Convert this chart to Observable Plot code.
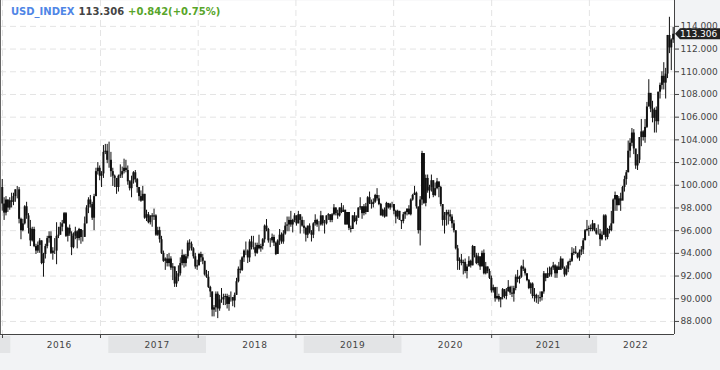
<!DOCTYPE html>
<html><head><meta charset="utf-8">
<script src="https://cdn.jsdelivr.net/npm/d3@7"></script>
<script src="https://cdn.jsdelivr.net/npm/@observablehq/plot@0.6"></script>
<style>
html,body{margin:0;padding:0;background:#f2f3f5;}
#chart{width:720px;height:370px;}
</style></head><body><div id="chart"></div>
<script>
// Weekly bars [close, high, low], first week starts Monday 2015-11-30
const firstWeek = "2015-11-30";
const firstOpen = 99.8;
const w2015 = [[98.35,100.51,97.72],[97.55,98.9,96.9],[98.7,99.0,97.3],[97.99,98.7,97.6],[98.63,98.9,97.8]];
const w2016 = [[98.5,99.3,98.0],[99.0,99.3,98.2],[99.6,99.6,98.5],[99.6,99.9,98.8],[97.0,99.8,96.6],[96.0,97.1,95.2],[96.6,97.0,95.9],[98.1,98.2,96.5],[97.3,98.5,97.0],[96.2,97.5,95.7],[95.1,96.9,94.6],[96.1,96.3,95.0],[94.6,96.3,94.5],[94.2,94.8,93.9],[94.7,95.0,94.0],[95.1,95.3,94.0],[93.1,95.1,93.0],[93.9,94.0,91.9],[94.6,94.8,93.5],[95.3,95.5,94.4],[95.5,95.9,94.9],[94.0,95.9,93.9],[94.2,94.5,93.4],[94.2,95.3,93.9],[95.5,96.7,93.0],[95.6,96.3,95.3],[96.3,96.7,95.6],[96.6,96.9,95.9],[97.5,97.6,96.6],[95.5,97.6,95.4],[96.2,96.3,95.0],[95.7,96.5,95.5],[94.5,95.9,93.8],[95.5,95.8,94.4],[95.9,96.3,95.2],[95.3,96.0,94.4],[96.1,96.2,95.1],[95.4,96.0,94.8],[95.4,96.0,95.0],[96.6,97.2,95.5],[98.0,98.2,96.6],[98.7,98.9,97.5],[98.3,99.1,98.0],[97.1,98.5,96.9],[99.0,99.2,96.0],[101.2,101.5,99.0],[101.5,102.0,100.9],[100.8,101.7,100.4],[101.0,101.2,99.8],[102.9,103.5,100.6],[103.0,103.6,102.7],[102.2,103.6,101.9]];
const w2017 = [[102.2,103.8,101.5],[101.2,102.9,100.7],[100.8,101.5,99.9],[100.6,100.9,99.8],[99.8,100.6,99.2],[100.8,100.9,99.4],[100.9,101.8,100.6],[101.2,101.6,100.6],[101.5,102.3,101.0],[101.3,102.2,101.1],[100.3,101.7,100.0],[99.7,100.4,99.5],[100.4,100.8,98.9],[101.1,101.2,100.1],[100.5,101.3,100.2],[99.8,100.6,99.3],[99.0,99.3,98.6],[98.6,99.5,98.5],[99.2,99.9,98.8],[97.1,99.2,97.0],[97.4,97.8,96.8],[96.7,97.6,96.6],[97.3,97.3,96.5],[97.2,97.5,96.3],[97.3,97.9,96.9],[95.6,97.4,95.5],[96.0,96.3,95.5],[95.2,96.3,94.9],[94.0,95.5,93.9],[93.3,94.2,93.2],[93.5,93.6,92.5],[93.1,93.9,92.8],[93.5,94.0,92.8],[92.7,93.7,92.5],[92.8,93.1,91.6],[91.3,92.8,91.0],[91.9,92.4,91.0],[92.2,92.9,91.5],[93.1,93.6,92.0],[93.8,94.3,92.9],[93.1,93.9,92.7],[93.7,93.9,92.8],[94.9,95.1,93.5],[94.8,95.2,94.2],[94.4,95.0,94.2],[93.7,94.5,93.5],[92.8,94.0,92.6],[92.9,93.4,92.5],[93.9,94.0,92.9],[93.6,94.1,93.2],[93.3,93.9,93.0],[92.1,93.3,92.0]];
const w2018 = [[91.9,92.5,91.8],[91.0,92.4,90.9],[90.6,91.1,90.1],[89.0,90.6,88.4],[89.2,89.4,88.4],[90.4,90.6,88.8],[89.1,90.6,88.25],[89.9,90.3,88.9],[89.9,90.9,89.6],[90.1,90.4,89.4],[90.2,90.4,89.4],[89.5,90.4,89.1],[90.1,90.3,88.9],[90.1,90.6,89.7],[89.8,90.1,89.3],[90.3,90.5,89.2],[91.5,91.8,90.3],[92.6,92.8,91.4],[92.5,93.4,92.2],[93.6,93.7,92.4],[94.2,94.3,93.2],[94.2,95.0,93.8],[93.6,94.3,93.1],[95.0,95.2,93.2],[94.5,95.5,94.3],[94.5,95.5,94.3],[94.0,94.9,93.7],[94.7,94.9,93.9],[94.4,95.6,94.3],[94.6,94.8,94.1],[95.2,95.3,94.3],[96.4,96.5,94.9],[96.1,96.98,95.9],[95.1,96.2,94.9],[95.1,95.3,94.5],[95.4,95.7,94.9],[94.9,95.6,94.6],[93.9,95.0,93.8],[95.1,95.2,93.9],[95.6,96.1,94.7],[95.0,95.8,94.8],[95.7,96.0,94.8],[96.4,96.7,95.6],[96.5,97.2,95.9],[96.9,97.2,95.9],[96.5,97.7,96.3],[96.9,97.0,95.8],[97.3,97.5,96.7],[96.6,97.3,96.4],[97.4,97.7,96.6],[96.9,97.4,95.7],[96.4,97.2,96.3]];
const w2019 = [[96.2,96.9,95.7],[95.6,96.3,95.0],[96.4,96.4,95.3],[95.8,96.6,95.7],[95.6,96.0,95.0],[96.6,96.7,95.3],[96.9,97.4,96.4],[96.5,97.0,96.3],[96.5,96.8,95.9],[97.3,97.7,96.4],[96.6,97.3,96.4],[96.6,96.9,95.7],[97.3,97.3,96.5],[97.4,97.5,96.9],[96.9,97.4,96.7],[97.4,97.5,96.7],[98.0,98.3,97.3],[97.5,98.0,97.3],[97.3,97.8,97.0],[98.0,98.0,97.2],[97.6,98.4,97.5],[97.8,98.2,97.6],[96.5,97.8,96.5],[97.6,97.6,96.5],[96.2,97.6,96.0],[96.1,96.4,95.8],[97.3,97.3,96.1],[96.8,97.6,96.7],[97.1,97.3,96.5],[98.0,98.0,97.1],[98.1,98.9,97.8],[97.5,98.1,97.0],[98.1,98.3,97.3],[97.6,98.4,97.4],[98.9,99.0,97.8],[98.4,99.4,98.3],[98.3,98.7,97.9],[98.5,98.8,98.0],[99.1,99.2,98.4],[98.8,99.7,98.6],[98.3,99.1,98.2],[97.3,98.4,97.3],[97.8,97.9,97.2],[97.2,98.0,97.1],[98.4,98.5,97.3],[98.0,98.4,97.9],[98.3,98.4,97.8],[98.3,98.5,98.0],[97.7,98.3,97.4],[97.2,97.8,96.6],[97.7,97.8,97.0],[96.9,97.7,96.9]];
const w2020 = [[96.8,96.9,96.1],[97.4,97.6,96.6],[97.6,97.7,97.0],[97.9,97.9,97.3],[97.4,98.2,97.4],[98.7,98.8,97.3],[99.1,99.2,98.6],[99.3,99.9,99.1],[98.1,99.4,97.9],[96.0,98.0,95.7],[98.7,99.0,94.65],[102.8,102.99,98.2],[98.4,102.7,98.3],[100.6,100.9,98.1],[99.5,100.9,99.3],[99.8,100.0,98.8],[100.4,100.9,99.4],[99.1,100.4,98.9],[99.7,100.2,99.0],[100.3,100.6,99.6],[99.8,100.2,98.9],[98.3,99.9,98.1],[96.9,98.3,96.4],[97.3,97.6,95.7],[97.6,97.8,96.4],[97.4,97.8,96.5],[97.2,97.8,96.8],[96.6,97.4,96.2],[96.0,96.9,95.8],[94.4,95.9,94.3],[93.3,94.7,92.5],[93.4,93.6,92.5],[93.1,93.9,92.9],[93.2,93.4,92.1],[92.4,93.5,92.2],[92.8,93.0,91.75],[93.3,93.7,92.8],[92.9,93.4,92.7],[94.6,94.7,92.9],[93.8,94.6,93.6],[93.1,94.0,93.0],[93.7,94.0,92.9],[92.8,93.6,92.5],[94.0,94.2,92.9],[92.2,94.3,92.1],[92.8,93.2,92.1],[92.4,92.8,92.2],[91.8,92.6,91.7],[90.7,92.0,90.5],[90.97,91.2,90.5],[90.0,91.0,89.7],[90.2,91.0,89.9]];
const w2021 = [[89.9,90.4,89.7],[90.1,90.1,89.2],[90.8,90.9,89.9],[90.2,90.8,90.0],[90.6,90.9,89.9],[91.0,91.6,90.6],[90.5,91.1,90.3],[90.4,91.1,90.1],[90.9,91.1,89.7],[91.9,92.1,90.7],[91.7,92.5,91.4],[91.9,92.0,91.3],[92.8,92.9,91.8],[92.6,93.4,92.4],[92.2,92.7,92.0],[91.6,92.2,91.5],[90.9,91.7,90.8],[91.3,91.4,90.4],[90.2,91.4,90.0],[90.3,90.9,89.7],[90.0,90.4,89.6],[90.0,90.3,89.5],[90.1,90.6,89.7],[90.6,90.6,89.8],[92.2,92.4,90.4],[91.8,92.1,91.5],[92.2,92.7,91.8],[92.1,92.8,91.9],[92.7,92.8,91.9],[92.9,93.2,92.5],[92.2,93.0,91.8],[92.8,92.9,91.8],[92.5,93.2,92.5],[93.5,93.7,92.7],[92.7,93.2,92.6],[92.1,92.8,91.9],[92.6,92.9,92.0],[93.2,93.3,92.3],[93.3,93.5,92.9],[94.0,94.5,93.2],[94.1,94.4,93.8],[94.0,94.6,93.9],[93.6,94.0,93.5],[94.1,94.3,93.3],[94.3,94.6,93.8],[95.1,95.3,93.9],[96.0,96.1,95.2],[96.1,96.9,95.9],[96.2,96.4,95.5],[96.1,96.5,95.9],[96.6,96.9,95.9],[96.0,96.6,95.9],[95.7,96.2,95.6]];
const w2022 = [[95.7,96.5,95.6],[95.2,96.1,94.6],[95.6,95.9,95.1],[97.3,97.4,95.6],[95.4,97.4,95.1],[96.1,96.2,95.2],[96.0,96.4,95.7],[96.6,97.7,95.9],[98.7,98.8,96.6],[99.1,99.4,97.7],[98.2,99.1,97.7],[98.8,99.0,98.2],[98.6,99.3,97.7],[99.8,99.9,98.7],[100.5,100.8,99.4],[101.1,101.3,100.0],[103.0,103.9,101.1],[103.7,104.1,102.4],[104.6,105.0,103.4],[103.2,104.9,102.7],[101.7,103.1,101.4],[102.2,102.7,101.3],[104.2,104.2,101.9],[104.7,105.8,103.4],[104.2,104.8,103.9],[105.1,105.8,103.7],[106.9,107.3,105.0],[108.1,109.3,106.9],[106.7,107.9,106.4],[105.9,107.4,105.5],[106.6,106.8,104.6],[105.6,106.9,104.6],[108.2,108.2,105.3],[108.8,109.0,107.6],[109.6,110.0,108.4],[109.0,110.8,108.4],[109.8,110.3,107.6],[113.2,113.2,109.4],[112.1,114.8,111.6],[112.8,112.9,110.1],[113.306,113.9,112.5]];

const yTicks = [88,90,92,94,96,98,100,102,104,106,108,110,112,114];
const gridYears = [2015,2016,2017,2018,2019,2020,2021];   // vertical grid on Dec 1
const labelYears = [2015,2016,2017,2018,2019,2020,2021,2022];
const shadedYears = [2015,2017,2019,2021];
const title = {name: "USD_INDEX", last: "113.306", change: "+0.842(+0.75%)"};
const lastValue = 113.306;

const rows = [].concat(w2015, w2016, w2017, w2018, w2019, w2020, w2021, w2022);
const start = new Date(firstWeek + "T00:00:00Z");
let prev = firstOpen;
const bars = rows.map(([c, h, l], i) => {
  const o = prev; prev = c;
  return {date: d3.utcMonday.offset(start, i), open: o, close: c, high: h, low: l};
});

const xDomain = [new Date("2015-11-23T12:00:00Z"), new Date("2022-10-15T00:00:00Z")];
const yDomain = [86.85, 116.28];
const gridDates = gridYears.map(y => new Date(Date.UTC(y, 11, 1)));

const plot = Plot.plot({
  width: 720, height: 370,
  marginLeft: 0, marginRight: 46, marginTop: 0, marginBottom: 36,
  style: {background: "transparent", fontFamily: "DejaVu Sans", fontSize: "9px", color: "#444", overflow: "visible"},
  x: {type: "utc", domain: xDomain, axis: null},
  y: {domain: yDomain, axis: null},
  marks: [
    Plot.frame({fill: "#fff", stroke: null}),
    Plot.ruleY(yTicks, {stroke: "#e4e4e4", strokeDasharray: "6,4"}),
    Plot.ruleX(gridDates, {stroke: "#e4e4e4", strokeDasharray: "6,4"}),
    Plot.ruleX(bars, {x: "date", y1: "low", y2: "high", stroke: "#111", strokeWidth: 1}),
    Plot.ruleX(bars, {x: "date", y1: "open", y2: "close", stroke: "#111", strokeWidth: 2}),
    Plot.ruleX([xDomain[0]], {stroke: "#666"}),
    Plot.ruleX([xDomain[1]], {stroke: "#444"}),
    Plot.ruleY([yDomain[0]], {stroke: "#444"}),
    Plot.axisY({anchor: "right", ticks: yTicks, tickFormat: d => d.toFixed(3), tickSize: 4, tickPadding: 2, stroke: "#444", fill: "#444", fontSize: 9}),
    Plot.axisX({ticks: gridDates, tickFormat: () => "", tickSize: 4, stroke: "#444"})
  ]
});

const svg = d3.select(plot);
const sx = plot.scale("x"), sy = plot.scale("y");
const x0 = sx.apply(xDomain[0]), x1 = sx.apply(xDomain[1]);
const clampX = v => Math.max(x0, Math.min(x1, v));

// year bands and labels below the plot
const band = svg.insert("g", ":first-child");
labelYears.forEach(y => {
  const a = clampX(sx.apply(new Date(Date.UTC(y, 0, 1))));
  const b = clampX(sx.apply(new Date(Date.UTC(y + 1, 0, 1))));
  if (shadedYears.includes(y)) {
    band.append("rect").attr("x", a).attr("y", 336).attr("width", b - a).attr("height", 17).attr("fill", "#e3e4e6");
  }
  if (y !== 2015) {
    svg.append("text").attr("x", (a + b) / 2).attr("y", 348).attr("text-anchor", "middle")
      .attr("font-family", "DejaVu Sans").attr("font-size", 9).attr("letter-spacing", "0.6px").attr("fill", "#444").text(y);
  }
});

// title
const t = svg.append("text").attr("x", 11).attr("y", 15).attr("text-anchor", "start").attr("font-family", "DejaVu Sans")
  .attr("font-size", 10).attr("font-weight", "bold");
t.append("tspan").attr("fill", "#4f86e6").text(title.name);
t.append("tspan").attr("fill", "#444").attr("dx", 4).text(title.last);
t.append("tspan").attr("fill", "#58a52a").attr("dx", 4).text(title.change);

// last price tag
const ty = sy.apply(lastValue);
svg.append("path").attr("d", `M${x1 + 1},${ty} L${x1 + 6},${ty - 5.5} L720,${ty - 5.5} L720,${ty + 5.5} L${x1 + 6},${ty + 5.5} Z`).attr("fill", "#222");
svg.append("text").attr("x", 680).attr("y", ty + 3.3).attr("text-anchor", "start").attr("font-family", "DejaVu Sans").attr("font-size", 9)
  .attr("fill", "#fff").text(lastValue.toFixed(3));

document.getElementById("chart").appendChild(plot);
</script>
</body></html>
